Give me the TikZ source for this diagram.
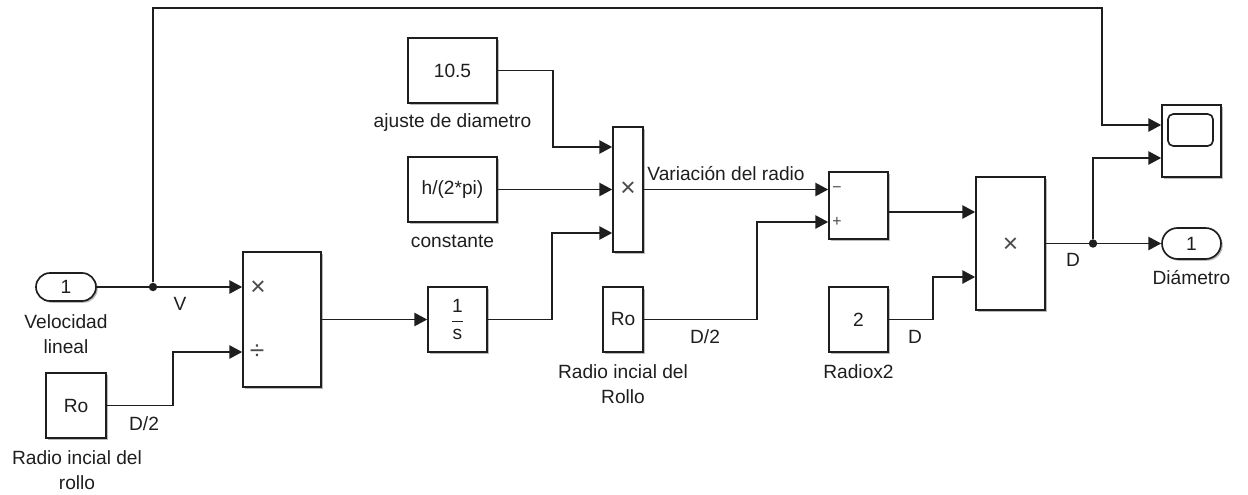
\documentclass[tikz,border=0pt]{standalone}
\usepackage{fontspec}
\setmainfont{Liberation Sans}
\usetikzlibrary{arrows.meta,shadows,calc,shapes.misc}
\definecolor{ink}{HTML}{1E1E1E}
\begin{document}
\begin{tikzpicture}[x=0.02cm,y=-0.02cm,
  font=\fontsize{10.9}{14.2}\selectfont, text=ink,
  blk/.style={draw=ink, line width=0.95pt, fill=white, inner sep=0pt,
    drop shadow={shadow xshift=1pt,shadow yshift=-1pt,fill=black!45,opacity=0.6}},
  port/.style={blk, rounded rectangle},
  wire/.style={draw=ink, line width=0.8pt, -{Triangle[length=7.3pt,width=7.6pt]}},
  dot/.style={circle, fill=ink, inner sep=0pt, minimum size=4.8pt},
  lbl/.style={inner sep=0pt, align=center},
  sgn/.style={inner sep=0pt, font=\fontsize{15}{16}\selectfont, text=ink!80}
]
\path[use as bounding box] (0,0) rectangle (1248,494);

% blocks
\node[port, minimum width=1.2cm, minimum height=0.56cm] (in1) at (66,287) {1};
\node[blk, minimum width=1.2cm, minimum height=1.3cm] (ro1) at (76,405.5) {Ro};
\node[blk, minimum width=1.56cm, minimum height=2.7cm] (prod1) at (282,319.5) {};
\node[blk, minimum width=1.18cm, minimum height=1.3cm] (integ) at (457.5,319.5) {$\displaystyle\frac{\hbox{1}}{\hbox{s}}$};
\node[blk, minimum width=1.78cm, minimum height=1.3cm] (c105) at (452.5,70.5) {10.5};
\node[blk, minimum width=1.78cm, minimum height=1.3cm] (hpi) at (452.5,189.5) {h/(2*pi)};
\node[blk, minimum width=0.6cm, minimum height=2.5cm] (prod2) at (628,189.5) {};
\node[blk, minimum width=0.8cm, minimum height=1.3cm] (ro2) at (623,319.5) {Ro};
\node[blk, minimum width=1.18cm, minimum height=1.34cm] (sum) at (858.5,205.5) {};
\node[blk, minimum width=1.18cm, minimum height=1.3cm] (two) at (858.5,319.5) {2};
\node[blk, minimum width=1.38cm, minimum height=2.66cm] (prod3) at (1010.5,243.5) {};
\node[blk, minimum width=1.18cm, minimum height=1.44cm] (scope) at (1191.5,141) {};
\node[draw=ink, line width=0.95pt, rounded corners=3pt, minimum width=0.9cm, minimum height=0.64cm, inner sep=0pt] (screen) at (1190.5,130) {};
\node[port, minimum width=1.18cm, minimum height=0.62cm] (out1) at (1191.5,243.5) {1};

% signs inside blocks
\node[sgn] (s1) at (258,288) {×};
\node[sgn] (s2) at (257,352) {÷};
\node[sgn] (s3) at (628,189.5) {×};
\node[sgn, font=\fontsize{9}{10}\selectfont] (s4) at (837,190) {−};
\node[sgn, font=\fontsize{9}{10}\selectfont] (s5) at (837,222) {+};
\node[sgn] (s6) at (1010.5,245) {×};

% labels
\node[lbl] (l1) at (66,334.5) {Velocidad\\lineal};
\node[lbl] (l2) at (77,470.5) {Radio incial del\\rollo};
\node[lbl] (l3) at (452.5,123) {ajuste de diametro};
\node[lbl] (l4) at (452.5,241) {constante};
\node[lbl] (l5) at (623,384) {Radio incial del\\Rollo};
\node[lbl] (l6) at (858.5,372) {Radiox2};
\node[lbl] (l7) at (1191.5,278) {Diámetro};
\node[lbl] (l8) at (726,174) {Variación del radio};
\node[lbl] (v) at (180,304) {V};
\node[lbl] (d2a) at (144,424) {D/2};
\node[lbl] (d2b) at (705,337) {D/2};
\node[lbl] (da) at (915,337) {D};
\node[lbl] (db) at (1073,260) {D};

% bend coordinates
\coordinate (tr) at (1102,8);
\coordinate (sc1) at ($(scope.west)+(0,-16)$);
\coordinate (sc2) at ($(scope.west)+(0,17)$);
\coordinate (b1) at (173,352);
\coordinate (b2) at (552,233);
\coordinate (b3) at (553,147);
\coordinate (b4) at (757,222);
\coordinate (p3a) at ($(prod3.west)+(0,-31.5)$);
\coordinate (b5) at (933,277);

% connectors
\node[dot] (j1) at (153,287) {};
\node[dot] (j2) at (1093,243.5) {};
\draw[wire] (in1.east) -- (prod1.west |- in1.east);
\draw[wire] (j1) |- (tr) |- (sc1);
\draw[wire] (ro1.east) -| (b1) -- (prod1.west |- b1);
\draw[wire] (prod1.east) -- (integ.west);
\draw[wire] (integ.east) -| (b2) -- (prod2.west |- b2);
\draw[wire] (c105.east) -| (b3) -- (prod2.west |- b3);
\draw[wire] (hpi.east) -- (prod2.west |- hpi.east);
\draw[wire] (prod2.east) -- (sum.west |- prod2.east);
\draw[wire] (ro2.east) -| (b4) -- (sum.west |- b4);
\draw[wire] (sum.east |- p3a) -- (p3a);
\draw[wire] (two.east) -| (b5) -- (prod3.west |- b5);
\draw[wire] (prod3.east) -- (out1.west);
\draw[wire] (j2) |- (sc2);
\end{tikzpicture}
\end{document}
